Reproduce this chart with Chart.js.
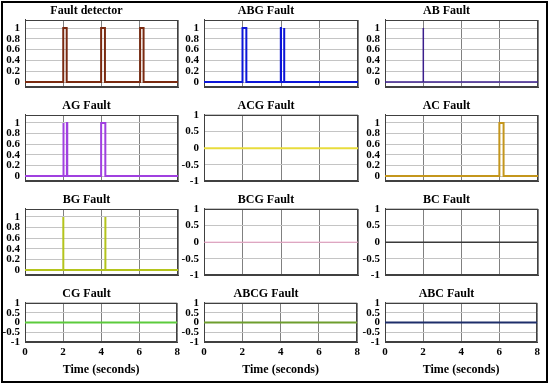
<!DOCTYPE html>
<html>
<head>
<meta charset="utf-8">
<script src="https://cdn.jsdelivr.net/npm/chart.js@4"></script>
<style>
  body { margin: 0; background: #fff; }
  #fig { position: relative; width: 550px; height: 385px; overflow: hidden; }
  #frame { position: absolute; left: 1px; top: 1px; width: 547px; height: 382px; border: 2px solid #000; box-sizing: border-box; }
  canvas { position: absolute; }
</style>
</head>
<body>
<div id="fig"><div id="frame"></div></div>
<script>
// panel titles, row by row
const titles = ['Fault detector', 'ABG Fault', 'AB Fault',
                'AG Fault', 'ACG Fault', 'AC Fault',
                'BG Fault', 'BCG Fault', 'BC Fault',
                'CG Fault', 'ABCG Fault', 'ABC Fault'];

// signal pulses as [start, end] in seconds (value 1 inside, 0 elsewhere)
const pulses = [
  [[2.0, 2.18], [3.98, 4.18], [6.02, 6.2]],   // Fault detector
  [[2.0, 2.2], [3.99, 4.0], [4.16, 4.17]],    // ABG
  [[2.0, 2.005]],                             // AB
  [[2.0, 2.02], [2.19, 2.21], [3.98, 4.2]],   // AG
  [],                                         // ACG
  [[5.98, 6.2]],                              // AC
  [[2.0, 2.005], [4.2, 4.205]],               // BG
  [], [], [], [], []                          // BCG, BC, CG, ABCG, ABC
];

const lineColors = ['#7a2a10', '#0c16d8', '#3b1e8c',
                    '#a040e0', '#e8dc3c', '#c4961c',
                    '#b4c41c', '#e89ac0', '#3a3a3a',
                    '#5ccb3c', '#6e9e2e', '#1e2e6a'];
const lineWidths = [2, 2, 1.5, 2, 2, 2, 2, 1, 1.5, 2, 2, 2];

const tStart = 0, tEnd = 8;
const xTicks = [0, 2, 4, 6, 8];
const yTicksPulse = [0, 0.2, 0.4, 0.6, 0.8, 1];
const yTicksFlat = [-1, -0.5, 0, 0.5, 1];

// layout (pixels)
const colLeft = [25, 204, 385], colRight = [178, 358, 538];
const rowTop = [20, 115, 209, 303], rowBottom = [91, 185, 279, 346];
const YW = 30, PR = 6, TITLE_H = 16, PB = 8, XAXIS_H = 34;
const FONT = 'Liberation Serif, Times New Roman, serif';

function buildPoints(list) {
  const pts = [{x: tStart, y: 0}];
  list.forEach(([a, b]) => {
    pts.push({x: a, y: 0}, {x: a, y: 1}, {x: b, y: 1}, {x: b, y: 0});
  });
  pts.push({x: tEnd, y: 0});
  return pts;
}

const boxPlugin = {
  id: 'box',
  beforeDatasetsDraw(chart) {
    const a = chart.chartArea, c = chart.ctx;
    c.save();
    c.strokeStyle = '#404040';
    c.lineWidth = 1;
    c.strokeRect(Math.round(a.left) + 0.5, Math.round(a.top) + 0.5,
                 Math.round(a.right - a.left) - 1, Math.round(a.bottom - a.top) - 1);
    c.restore();
  }
};

const fig = document.getElementById('fig');
titles.forEach((title, i) => {
  const row = Math.floor(i / 3), col = i % 3;
  const lastRow = row === 3;
  const pulsed = pulses[i].length > 0;
  const plotW = colRight[col] - colLeft[col];
  const plotH = rowBottom[row] - rowTop[row];
  const bottomSpace = lastRow ? XAXIS_H : PB;

  const cv = document.createElement('canvas');
  cv.width = YW + plotW + PR;
  cv.height = TITLE_H + plotH + bottomSpace;
  cv.style.left = (colLeft[col] - YW) + 'px';
  cv.style.top = (rowTop[row] - TITLE_H) + 'px';
  fig.appendChild(cv);

  new Chart(cv.getContext('2d'), {
    type: 'line',
    data: {
      datasets: [{
        data: buildPoints(pulses[i]),
        borderColor: lineColors[i],
        borderWidth: lineWidths[i],
        pointRadius: 0,
        tension: 0,
        fill: false
      }]
    },
    options: {
      responsive: false,
      animation: false,
      layout: { padding: { left: 0, right: PR, top: 0, bottom: lastRow ? 0 : PB } },
      plugins: {
        legend: { display: false },
        tooltip: { enabled: false },
        title: {
          display: true,
          text: title,
          color: '#000',
          font: { family: FONT, size: 12, weight: 'bold' },
          padding: { top: 0, bottom: 1.6 }
        }
      },
      scales: {
        x: {
          type: 'linear',
          min: tStart,
          max: tEnd,
          afterBuildTicks: s => { s.ticks = xTicks.map(v => ({value: v})); },
          grid: { color: '#808080', lineWidth: 1, drawTicks: false },
          border: { display: true, color: '#404040' },
          ticks: {
            display: lastRow,
            autoSkip: false,
            color: '#000',
            padding: 4,
            font: { family: FONT, size: 11, weight: 'bold' },
            maxRotation: 0
          },
          title: {
            display: lastRow,
            text: 'Time (seconds)',
            color: '#000',
            font: { family: FONT, size: 12, weight: 'bold' },
            padding: { top: 0, bottom: 2.4 }
          }
        },
        y: {
          min: pulsed ? -0.1 : -1,
          max: pulsed ? 1.15 : 1,
          afterBuildTicks: s => { s.ticks = (pulsed ? yTicksPulse : yTicksFlat).map(v => ({value: v})); },
          afterFit: s => { s.width = YW; },
          grid: { color: '#c4c4c4', lineWidth: 1, drawTicks: false },
          border: { display: true, color: '#404040' },
          ticks: {
            autoSkip: false,
            color: '#000',
            padding: 5,
            font: { family: FONT, size: 11, weight: 'bold' },
            callback: v => String(v)
          }
        }
      }
    },
    plugins: [boxPlugin]
  });
});
</script>
</body>
</html>
